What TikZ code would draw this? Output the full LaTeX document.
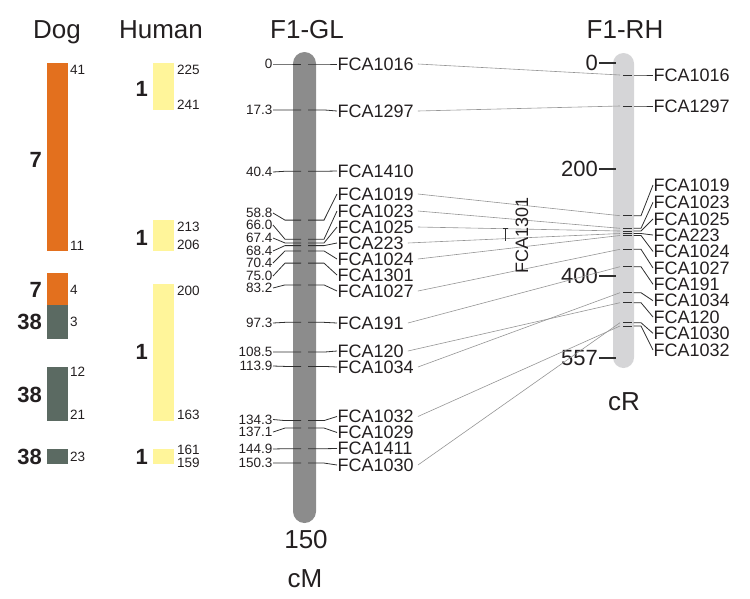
\documentclass[tikz,border=0pt]{standalone}
\usepackage{fontspec}
\setmainfont{Liberation Sans}
\definecolor{dogorange}{HTML}{E3701E}
\definecolor{doggray}{HTML}{5B6A62}
\definecolor{humanyellow}{HTML}{FFF59A}
\definecolor{glgray}{HTML}{8C8C8C}
\definecolor{rhgray}{HTML}{D5D5D7}
\definecolor{linkgray}{HTML}{959595}
\definecolor{tickgray}{HTML}{2F2F2F}
\definecolor{textgray}{HTML}{231F20}

\begin{document}
\begin{tikzpicture}[x=1pt,y=-1pt,text=textgray,
	header/.style={anchor=base,inner sep=0pt,font=\fontsize{26}{26}\selectfont},
	unitlbl/.style={anchor=base,inner sep=0pt,font=\fontsize{26}{26}\selectfont},
	chrnum/.style={anchor=east,inner sep=1pt,font=\fontsize{22}{22}\selectfont\bfseries},
	bandpos/.style={anchor=west,inner sep=0.5pt,font=\fontsize{13.5}{13.5}\selectfont},
	cmpos/.style={anchor=east,inner sep=0.5pt,font=\fontsize{13.5}{13.5}\selectfont},
	crpos/.style={anchor=east,inner sep=1pt,font=\fontsize{22}{22}\selectfont},
	marker/.style={anchor=west,inner sep=0.5pt,font=\fontsize{18}{18}\selectfont},
	ticks/.style={draw=tickgray,line width=0.8pt},
	link/.style={draw=linkgray,line width=0.6pt}]
	\useasboundingbox (0,0) rectangle (750,598);
	\node[header] (dog) at (57,38) {Dog};
	\node[header] (human) at (161,38) {Human};
	\node[header] (f1gl) at (307,38) {F1-GL};
	\node[header] (f1rh) at (625,38) {F1-RH};
	\fill[dogorange] (47,63) rectangle (68,251);
	\fill[dogorange] (47,273) rectangle (68,305);
	\fill[doggray] (47,305) rectangle (68,339);
	\fill[doggray] (47,367) rectangle (68,421);
	\fill[doggray] (47,449) rectangle (68,464);
	\foreach \ya/\yb in {63/110,220/251,284/421,449/464}
		\fill[humanyellow] (153,\ya) rectangle (174,\yb);
	\foreach \y/\t in {70/41,246/11,290/4,322/3,372/12,415/21,457/23}
		\node[bandpos] (dog\t) at (69.5,\y) {\t};
	\foreach \y/\t in {70/225,105/241,227/213,245/206,291/200,415/163,450/161,463/159}
		\node[bandpos] (hum\t) at (176.5,\y) {\t};
	\foreach \y/\t [count=\i] in {160/7,290/7,322/38,395/38,457/38}
		\node[chrnum] (dogchr\i) at (43,\y) {\t};
	\foreach \y [count=\i] in {89,238,352,457}
		\node[chrnum] (humchr\i) at (149,\y) {1};
	\fill[glgray,rounded corners=11.5pt] (293,52) rectangle (316,523);
	\fill[rhgray,rounded corners=10.5pt] (613,53) rectangle (634,368);
	\foreach \pos/\ly/\ry/\nm in {0/64/64/1016,17.3/110/111/1297,40.4/172/171/1410,58.8/213/194/1019,66.0/225/211/1023,67.4/238/227/1025,68.4/251/243/223,70.4/263/259/1024,75.0/276/275/1301,83.2/288/291/1027,97.3/323/323/191,108.5/352/351/120,113.9/366/367/1034,134.3/419.5/416.5/1032,137.1/432/432.5/1029,144.9/449/448.5/1411,150.3/463/465/1030}{
		\node[cmpos] (cm\nm) at (273,\ly) {\pos};
		\node[marker] (gl\nm) at (337,\ry) {FCA\nm};
		\path (285,{64+2.655*\pos}) coordinate (gla\nm) (301,{64+2.655*\pos}) coordinate (glb\nm)
			(308,{64+2.655*\pos}) coordinate (glc\nm) (324,{64+2.655*\pos}) coordinate (gld\nm);
		\draw[ticks] (cm\nm.east) -- (gla\nm) -- (glb\nm);
		\draw[ticks] (glc\nm) -- (gld\nm) -- (gl\nm.west);
	}
	\foreach \v/\y in {0/63,200/168.5,400/275.8,557/358}{
		\node[crpos] (ax\v) at (599,\y) {\v};
		\coordinate (axe\v) at (616,\y);
		\draw[tickgray,line width=2pt] (ax\v.east) -- (axe\v);
	}
	\foreach \nm/\ty/\ry in {1016/75/75,1297/106/106,1019/215.7/185,1023/228.3/202.3,1025/231/219,223/233.5/235,1024/235.5/251.5,1027/249.3/268,191/266.7/284.3,1034/292.7/300.7,120/302.7/317,1030/322.7/333.3,1032/326/350}{
		\node[marker] (rh\nm) at (653,\ry) {FCA\nm};
		\path (620,\ty) coordinate (rha\nm) (623,\ty) coordinate (rhb\nm) (632,\ty) coordinate (rhc\nm)
			(633.5,\ty) coordinate (rhd\nm) (641,\ty) coordinate (rhe\nm);
		\draw[ticks] (rhb\nm) -- (rhc\nm);
		\draw[ticks] (rhd\nm) -- (rhe\nm) -- (rh\nm.west);
		\draw[link] ([xshift=3.5pt]gl\nm.east) -- (rha\nm);
	}
	\node[rotate=90,inner sep=0pt,font=\fontsize{18}{18}\selectfont] (rh1301) at (522,235) {FCA1301};
	\coordinate (u1301) at (505,228);
	\coordinate (v1301) at (505,241);
	\draw[tickgray,line width=0.6pt] ([xshift=-2.5pt]u1301) -- ([xshift=2.5pt]u1301) (u1301) -- (v1301);
	\node[unitlbl] (glend) at (306,548) {150};
	\node[unitlbl] (cmunit) at (305,587) {cM};
	\node[unitlbl] (crunit) at (624,410) {cR};
\end{tikzpicture}
\end{document}
